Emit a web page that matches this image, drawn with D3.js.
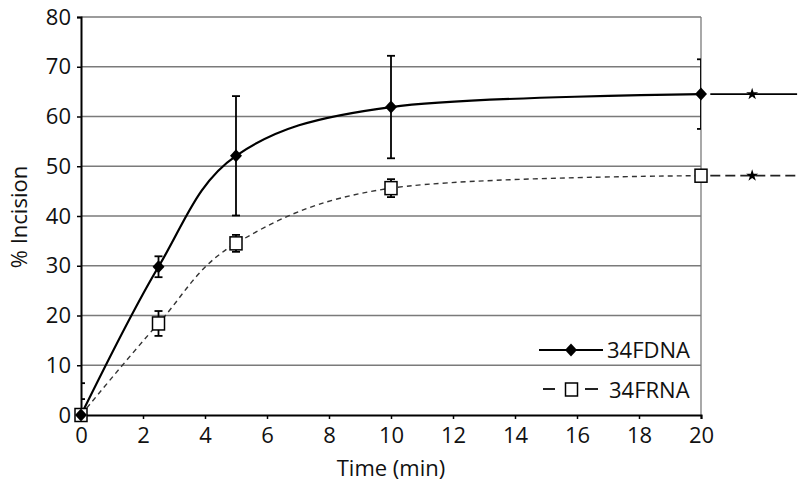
<!DOCTYPE html>
<html>
<head>
<meta charset="utf-8">
<script src="https://cdn.jsdelivr.net/npm/d3@7/dist/d3.min.js"></script>
<style>
  html, body { margin: 0; padding: 0; background: #fff; }
  svg { display: block; font-family: "Open Sans", "Noto Sans", sans-serif; }
</style>
</head>
<body>
<svg id="chart" width="800" height="491"></svg>
<script>
// ---- data ----
const times = [0, 2.5, 5, 10, 20];
const dnaValues = [0, 29.8, 52.1, 61.9, 64.5];
const dnaErrors = [6.4, 2.1, 12.0, 10.3, 7.0];
const rnaValues = [0, 18.4, 34.5, 45.6, 48.1];
const rnaErrors = [3.2, 2.5, 1.7, 1.8, 0.4];
const xTicks = [0, 2, 4, 6, 8, 10, 12, 14, 16, 18, 20];
const yTicks = [0, 10, 20, 30, 40, 50, 60, 70, 80];
const seriesNames = ["34FDNA", "34FRNA"];
// trailing marker lines beyond the plot (as in the original figure)
const extStart = 20.3, extEnd = 23.1, extMarker = 21.65;

// ---- layout ----
const W = 800, H = 491;
const m = { left: 81, right: 99, top: 17, bottom: 76 };
const svg = d3.select("#chart");

const x = d3.scaleLinear().domain([0, 20]).range([m.left, W - m.right]);
const y = d3.scaleLinear().domain([0, 80]).range([H - m.bottom, m.top]);

const dna = times.map((t, i) => ({ t, v: dnaValues[i], e: dnaErrors[i] }));
const rna = times.map((t, i) => ({ t, v: rnaValues[i], e: rnaErrors[i] }));

svg.append("defs").append("clipPath").attr("id", "plotclip")
  .append("rect").attr("x", x(0)).attr("y", y(80))
  .attr("width", x(20) - x(0)).attr("height", y(0) - y(80));

// gridlines
svg.append("g").selectAll("line").data(yTicks.filter(d => d > 0)).join("line")
  .attr("x1", x(0)).attr("x2", x(20))
  .attr("y1", d => y(d)).attr("y2", d => y(d))
  .attr("stroke", "#7a7a7a").attr("stroke-width", 1.3);

// right border
svg.append("line").attr("x1", x(20)).attr("x2", x(20))
  .attr("y1", y(80)).attr("y2", y(0))
  .attr("stroke", "#7a7a7a").attr("stroke-width", 1.3);

// axes
const xAxis = svg.append("g").attr("transform", `translate(0,${y(0)})`)
  .call(d3.axisBottom(x).tickValues(xTicks).tickSize(4).tickPadding(8).tickFormat(d3.format("d")));
const yAxis = svg.append("g").attr("transform", `translate(${x(0)},0)`)
  .call(d3.axisLeft(y).tickValues(yTicks).tickSize(4).tickPadding(6).tickFormat(d3.format("d")));
[xAxis, yAxis].forEach(a => {
  a.select(".domain").attr("stroke", "#000").attr("stroke-width", 2);
  a.selectAll(".tick line").attr("stroke", "#000").attr("stroke-width", 1.5);
  a.selectAll(".tick text").attr("fill", "#111").style("font-size", "22px")
    .style("font-family", '"Open Sans", sans-serif');
});

// axis titles
svg.append("text").attr("x", (x(0) + x(20)) / 2).attr("y", 476)
  .attr("text-anchor", "middle").style("font-size", "22px").attr("fill", "#111")
  .text("Time (min)");
svg.append("text").attr("transform", `translate(27,${(y(0) + y(80)) / 2 + 1}) rotate(-90)`)
  .attr("text-anchor", "middle").style("font-size", "22px").attr("fill", "#111")
  .text("% Incision");

// curves
const line = d3.line().x(d => x(d.t)).y(d => y(d.v)).curve(d3.curveCatmullRom.alpha(0));
svg.append("path").datum(rna).attr("d", line)
  .attr("fill", "none").attr("stroke", "#333").attr("stroke-width", 1.4)
  .attr("stroke-dasharray", "5,4");
svg.append("path").datum(dna).attr("d", line)
  .attr("fill", "none").attr("stroke", "#000").attr("stroke-width", 2.2);

// error bars
function errorBars(data) {
  const g = svg.append("g").attr("clip-path", "url(#plotclip)")
    .attr("stroke", "#000").attr("stroke-width", 1.8);
  data.forEach(d => {
    g.append("line").attr("x1", x(d.t)).attr("x2", x(d.t))
      .attr("y1", y(d.v - d.e)).attr("y2", y(d.v + d.e));
    [d.v - d.e, d.v + d.e].forEach(val => {
      g.append("line").attr("x1", x(d.t) - 4).attr("x2", x(d.t) + 4)
        .attr("y1", y(val)).attr("y2", y(val));
    });
  });
}
errorBars(dna);
errorBars(rna);

// markers
const diamond = d3.symbol().type(d3.symbolDiamond2 || d3.symbolDiamond).size(80);
function drawDiamond(g, cx, cy) {
  g.append("path").attr("d", "M0,-6.5L6,0L0,6.5L-6,0Z")
    .attr("transform", `translate(${cx},${cy})`).attr("fill", "#000");
}
function drawSquare(g, cx, cy) {
  g.append("rect").attr("x", cx - 6).attr("y", cy - 6.5).attr("width", 12).attr("height", 13)
    .attr("fill", "#fff").attr("stroke", "#000").attr("stroke-width", 1.5);
}
const mk = svg.append("g");
rna.forEach(d => drawSquare(mk, x(d.t), y(d.v)));
dna.forEach(d => drawDiamond(mk, x(d.t), y(d.v)));

// trailing lines beyond the plot
const lastDNA = dnaValues[dnaValues.length - 1];
const lastRNA = rnaValues[rnaValues.length - 1];
svg.append("line").attr("x1", x(extStart)).attr("x2", x(extEnd))
  .attr("y1", y(lastDNA)).attr("y2", y(lastDNA))
  .attr("stroke", "#000").attr("stroke-width", 1.6);
svg.append("line").attr("x1", x(extStart)).attr("x2", W)
  .attr("y1", y(lastRNA)).attr("y2", y(lastRNA))
  .attr("stroke", "#222").attr("stroke-width", 1.8).attr("stroke-dasharray", "10,5");
const star = d3.symbol().type(d3.symbolStar).size(45);
[lastDNA, lastRNA].forEach(v => {
  svg.append("path").attr("d", star).attr("fill", "#000")
    .attr("transform", `translate(${x(extMarker)},${y(v)})`);
});

// legend
const lg = svg.append("g");
// entry 1
lg.append("line").attr("x1", 539).attr("x2", 603).attr("y1", 350).attr("y2", 350)
  .attr("stroke", "#000").attr("stroke-width", 2);
drawDiamond(lg, 571, 350);
lg.append("text").attr("x", 607).attr("y", 358).style("font-size", "22px").attr("fill", "#111")
  .text(seriesNames[0]);
// entry 2
[[543, 555], [585, 598]].forEach(([a, b]) => {
  lg.append("line").attr("x1", a).attr("x2", b).attr("y1", 389).attr("y2", 389)
    .attr("stroke", "#222").attr("stroke-width", 2);
});
drawSquare(lg, 571.5, 389.5);
lg.append("text").attr("x", 609).attr("y", 398).style("font-size", "22px").attr("fill", "#111")
  .text(seriesNames[1]);
</script>
</body>
</html>
